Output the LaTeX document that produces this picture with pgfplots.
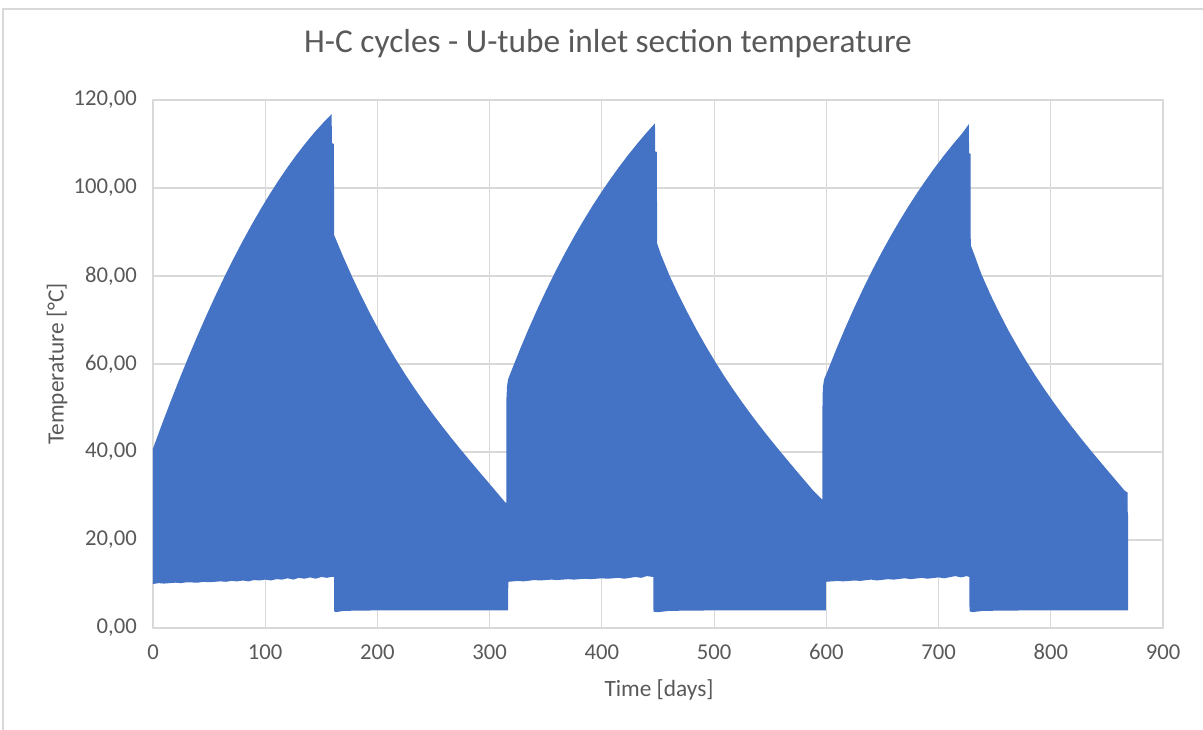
\documentclass[border=0pt]{standalone}
\usepackage{fontspec}
\setmainfont{Carlito}
\usepackage{pgfplots}
\pgfplotsset{compat=1.18}
\usepgfplotslibrary{fillbetween}

\definecolor{fillblue}{HTML}{4472C4}
\definecolor{txtgray}{HTML}{595959}
\definecolor{gridgray}{HTML}{D9D9D9}

\begin{document}
\begin{tikzpicture}
\begin{axis}[
  at={(0,0)}, anchor=south west,
  scale only axis,
  width=757.5pt, height=396pt,
  xmin=0, xmax=900, ymin=0, ymax=120,
  xtick={0,100,...,900},
  ytick={0,20,...,120},
  grid=major,
  major grid style={gridgray, line width=0.9pt},
  axis line style={gridgray, line width=0.9pt},
  tick style={draw=none},
  /pgf/number format/assume math mode=true,
  ticklabel style={font=\fontsize{17}{20}\selectfont, text=txtgray},
  xticklabel style={anchor=center, inner sep=0pt, yshift=-18pt,
    /pgf/number format/.cd, fixed, precision=0},
  yticklabel style={anchor=east, inner sep=0pt, xshift=-12pt,
    /pgf/number format/.cd, fixed, fixed zerofill, precision=2, use comma},
  title={H-C cycles - U-tube inlet section temperature},
  title style={at={(axis description cs:0.4505,1.0909)}, anchor=center,
    font=\fontsize{25}{30}\selectfont, text=txtgray},
  xlabel={Time [days]},
  xlabel style={at={(axis description cs:0.501,-0.1174)}, anchor=center,
    font=\fontsize{17.5}{21}\selectfont, text=txtgray},
  ylabel={Temperature [°C]},
  ylabel style={at={(axis description cs:-0.095,0.5)}, anchor=center, rotate=0,
    font=\fontsize{17.5}{21}\selectfont, text=txtgray},
]
% upper envelope of the daily temperature swing
\addplot[draw=none, name path=upper] coordinates {
  % heating 1
  (0,40.8) (8,46.33) (16,51.69) (24,56.86) (32,61.85) (40,66.65) (48,71.28)
  (56,75.73) (64,80.0) (72,84.07) (80,87.98) (88,91.69) (96,95.24) (104,98.59)
  (112,101.77) (120,104.76) (128,107.58) (136,110.2) (144,112.66) (152,114.92)
  (159.2,116.8) (159.4,110.2) (161.2,110.0) (161.4,89.3)
  % cooling 1
  (169.4,84.43) (177.4,79.85) (185.4,75.54) (193.4,71.48) (201.4,67.65)
  (209.4,64.04) (217.4,60.63) (225.4,57.39) (233.4,54.33) (241.4,51.40)
  (249.4,48.60) (257.4,45.92) (265.4,43.32) (273.4,40.80) (281.4,38.34)
  (289.4,35.91) (297.4,33.51) (305.4,31.11) (313.7,28.6)
  (314.8,28.4) (315.0,52.5) (315.5,55.0) (316.4,56.5)
  % heating 2
  (319.2,58.35) (327.2,63.45) (335.2,68.28) (343.2,72.86) (351.2,77.21)
  (359.2,81.33) (367.2,85.23) (375.2,88.93) (383.2,92.44) (391.2,95.77)
  (399.2,98.92) (407.2,101.91) (415.2,104.75) (423.2,107.44) (431.2,109.98)
  (439.2,112.4) (447.3,114.7) (447.5,108.3) (449.0,108.2) (449.2,87.4)
  % cooling 2
  (452.7,84.8) (460.7,79.85) (468.7,75.54) (476.7,71.48) (484.7,67.65)
  (492.7,64.04) (500.7,60.63) (508.7,57.39) (516.7,54.33) (524.7,51.40)
  (532.7,48.60) (540.7,45.92) (548.7,43.32) (556.7,40.80) (564.7,38.34)
  (572.7,35.91) (580.7,33.51) (588.7,31.11) (595.8,29.3)
  (596.4,29.2) (596.6,52.5) (597.1,55.0) (598.0,56.5)
  % heating 3
  (601.0,58.35) (609.0,63.45) (617.0,68.28) (625.0,72.86) (633.0,77.21)
  (641.0,81.33) (649.0,85.23) (657.0,88.93) (665.0,92.44) (673.0,95.77)
  (681.0,98.92) (689.0,101.91) (697.0,104.75) (705.0,107.44) (713.0,109.98)
  (721.0,112.4) (727.0,114.5) (727.2,107.9) (728.5,107.8) (728.7,87.0)
  % cooling 3
  (732.5,84.4) (738.2,80.4) (746.2,75.8) (754.2,71.6) (762.2,67.65)
  (770.2,64.04) (778.2,60.63) (786.2,57.39) (794.2,54.33) (802.2,51.40)
  (810.2,48.60) (818.2,45.92) (826.2,43.32) (834.2,40.80) (842.2,38.34)
  (850.2,35.91) (858.2,33.51) (866.2,31.11) (868.5,30.8)
  (868.6,25.7) (869.0,25.7)
};
% lower envelope of the daily temperature swing
\addplot[draw=none, name path=lower] coordinates {
  (0,10.0) (5,10.2) (10,10.1) (20,10.3) (25,10.2) (30,10.4) (40,10.3) (45,10.5)
  (50,10.4) (60,10.6) (65,10.5) (70,10.7) (75,10.6) (80,10.8) (85,10.6) (90,10.9)
  (95,10.8) (100,11.0) (105,10.8) (110,11.1) (115,11.0) (120,11.3) (125,11.0)
  (130,11.4) (135,11.2) (140,11.5) (145,11.2) (150,11.6) (155,11.4) (158.5,11.6)
  (161.3,11.6) (161.5,3.8) (163,3.6) (170,3.9) (200,4.0) (250,4.0) (300,4.0)
  (316.4,4.0) (316.6,10.5) (325,10.7) (330,10.6) (340,10.9) (345,10.8) (355,11.0)
  (360,10.9) (370,11.1) (375,11.0) (385,11.2) (390,11.1) (400,11.3) (405,11.2)
  (415,11.4) (420,11.2) (430,11.6) (435,11.4) (440,11.8) (445.8,11.6)
  (446.0,3.7) (450,3.6) (460,3.9) (500,4.0) (550,4.0) (599.5,4.0)
  (599.7,10.5) (610,10.7) (615,10.6) (625,10.8) (630,10.7) (640,11.0) (645,10.8)
  (655,11.1) (660,11.0) (670,11.3) (675,11.1) (685,11.4) (690,11.2) (700,11.5)
  (705,11.3) (715,11.8) (720,11.5) (725,11.8)
  (727.4,11.6) (727.6,3.8) (730,3.6) (740,3.9) (780,4.0) (830,4.0) (869.0,4.0)
};
\addplot[fillblue, draw=none] fill between[of=upper and lower];
\end{axis}
\draw[gridgray, line width=0.8pt] (-112.5pt,-80pt) -- (-112.5pt,464.25pt) -- (790pt,464.25pt);
\pgfresetboundingbox
\useasboundingbox (-114.75pt,-75.75pt) rectangle (787.5pt,471pt);
\end{tikzpicture}
\end{document}
